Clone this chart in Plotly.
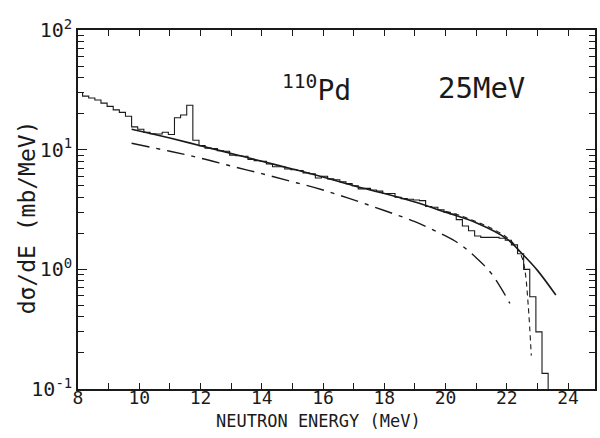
import numpy as np
import plotly.graph_objects as go

# ---------------- data ----------------
# experimental histogram: bin start energy & width, values (mb/MeV)
hist_start = 7.95
hist_width = 0.2
hist_values = [30, 28, 27, 26, 24.5, 23, 21.5, 20.5, 19, 15.5,
               14.8, 14.0, 13.6, 13.5, 14.0, 13.4, 18.5, 19.5, 23.5, 12.0,
               10.8, 10.3, 10.2, 9.8, 9.7, 9.0, 8.9, 8.8, 8.3, 8.1,
               8.0, 7.6, 7.2, 7.2, 6.9, 6.8, 6.7, 6.4, 6.3, 5.8,
               6.0, 5.7, 5.6, 5.4, 5.2, 5.0, 4.7, 4.75, 4.6, 4.5,
               4.3, 4.3, 4.0, 3.9, 3.85, 3.8, 3.75, 3.35, 3.3, 3.15,
               3.0, 2.9, 2.6, 2.3, 2.1, 1.9, 1.85, 1.85, 1.85, 1.82,
               1.75, 1.6, 1.35, 1.0, 0.59, 0.30, 0.135]

# solid calculation
solid_E = [9.75, 11, 12, 13, 14, 15, 16, 17, 18, 19, 20, 21, 22, 22.5, 23, 23.6]
solid_V = [14.8, 12.5, 10.8, 9.3, 8.0, 6.9, 5.9, 5.0, 4.3, 3.65, 3.0, 2.45, 1.8, 1.35, 0.98, 0.61]

# dash-dot calculation
dd_E = [9.75, 11, 12, 13, 14, 15, 16, 17, 18, 19, 20, 20.5, 21, 21.5, 22.1]
dd_V = [11.3, 9.7, 8.5, 7.3, 6.3, 5.4, 4.6, 3.8, 3.1, 2.5, 1.9, 1.6, 1.25, 0.92, 0.52]

# dashed calculation
dash_E = [20.0, 20.5, 21.0, 21.5, 22.0, 22.3, 22.5, 22.6, 22.7, 22.8]
dash_V = [3.05, 2.8, 2.5, 2.2, 1.85, 1.55, 1.25, 0.95, 0.5, 0.19]

x_ticks = [8, 10, 12, 14, 16, 18, 20, 22, 24]
y_ticks = [0.1, 1, 10, 100]
y_ticktext = ["10<sup>-1</sup>", "10<sup>0</sup>", "10<sup>1</sup>", "10<sup>2</sup>"]

x_range = [8, 24.88]
y_range_log = [-1, 2]

# ---------------- figure ----------------
ink = "#1a1a1a"
font = "DejaVu Sans Mono"

n = len(hist_values)
edges = hist_start + hist_width * np.arange(n + 1)
hx = list(edges) + [edges[-1]]
hy = list(hist_values) + [hist_values[-1], 10 ** y_range_log[0] * 0.5]

fig = go.Figure()
fig.add_trace(go.Scatter(x=hx, y=hy, mode="lines", line=dict(shape="hv", color=ink, width=1.1),
                         showlegend=False))
fig.add_trace(go.Scatter(x=solid_E, y=solid_V, mode="lines", line=dict(color=ink, width=1.6, shape="spline"),
                         showlegend=False))
fig.add_trace(go.Scatter(x=dd_E, y=dd_V, mode="lines",
                         line=dict(color=ink, width=1.4, dash="18px,7px,4px,7px", shape="spline"),
                         showlegend=False))
fig.add_trace(go.Scatter(x=dash_E, y=dash_V, mode="lines",
                         line=dict(color=ink, width=1.1, dash="5px,4px", shape="spline"),
                         showlegend=False))

minor_y = [m * 10 ** d for d in (-1, 0, 1) for m in range(2, 10)]

fig.update_layout(
    width=600, height=438,
    margin=dict(l=78, r=3, t=30, b=49),
    paper_bgcolor="white", plot_bgcolor="white",
    font=dict(family=font, color=ink, size=19),
    xaxis=dict(range=x_range, tickvals=x_ticks, ticks="inside", ticklen=6, tickwidth=1,
               tickcolor=ink, showline=True, linecolor=ink, linewidth=1.5, mirror="ticks",
               showgrid=False, zeroline=False, tickfont=dict(size=18, family=font),
               ticklabelstandoff=-8,
               minor=dict(tickvals=list(range(9, 25, 2)), ticks="inside", ticklen=6,
                          tickcolor=ink, showgrid=False)),
    yaxis=dict(type="log", range=y_range_log, tickvals=y_ticks, ticktext=y_ticktext,
               ticks="inside", ticklen=9, tickwidth=1, tickcolor=ink,
               showline=True, linecolor=ink, linewidth=1.5, mirror="ticks",
               showgrid=False, zeroline=False, tickfont=dict(size=20, family=font),
               minor=dict(tickvals=minor_y, ticks="inside", ticklen=6, tickcolor=ink,
                          showgrid=False)),
)

fig.add_annotation(text="NEUTRON ENERGY (MeV)", xref="paper", yref="paper",
                   x=0.466, y=-0.09, showarrow=False, font=dict(size=17, family=font),
                   xanchor="center", yanchor="middle")
fig.add_annotation(text="dσ/dE (mb/MeV)", xref="paper", yref="paper",
                   x=-0.098, y=0.479, showarrow=False, textangle=-90,
                   font=dict(size=23, family=font), xanchor="center", yanchor="middle")
fig.add_annotation(text="<sup>110</sup>Pd", xref="paper", yref="paper",
                   x=0.462, y=0.838, showarrow=False, font=dict(size=28, family=font),
                   xanchor="center", yanchor="middle")
fig.add_annotation(text="25MeV", xref="paper", yref="paper",
                   x=0.78, y=0.838, showarrow=False, font=dict(size=29, family=font),
                   xanchor="center", yanchor="middle")

fig.write_html("out.html")
